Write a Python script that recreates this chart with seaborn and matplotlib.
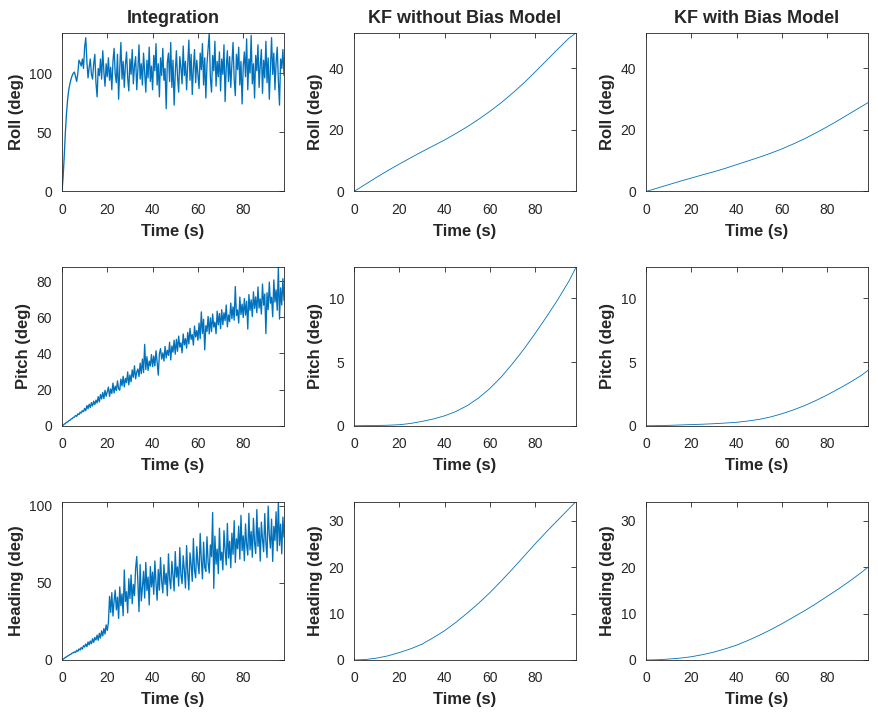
import numpy as np
import pandas as pd
import seaborn as sns
import matplotlib.pyplot as plt

roll_int = [0, 12, 30, 50, 66, 78, 86, 91, 95, 98, 100,
            101, 97, 93, 100, 111, 109, 106, 112, 104, 122,
            130, 110, 96, 105, 112, 99, 95, 108, 116, 92,
            80, 104, 98, 112, 95, 119, 101, 89, 108, 97,
            113, 94, 105, 86, 110, 121, 99, 92, 116, 78,
            104, 126, 95, 110, 88, 107, 118, 96, 85, 112,
            99, 120, 91, 106, 114, 86, 103, 124, 95, 108,
            90, 117, 101, 84, 111, 96, 122, 93, 106, 86,
            115, 102, 125, 90, 108, 80, 113, 98, 121, 94,
            104, 70, 109, 117, 93, 126, 88, 111, 73, 100,
            119, 97, 84, 114, 105, 91, 123, 98, 110, 86,
            107, 128, 94, 116, 82, 104, 120, 92, 111, 99,
            87, 117, 103, 125, 90, 113, 79, 108, 121, 134,
            96, 84, 115, 102, 127, 89, 110, 97, 118, 85,
            112, 99, 124, 76, 105, 119, 93, 114, 88, 108,
            126, 95, 81, 116, 103, 122, 90, 110, 74, 106,
            118, 97, 129, 86, 112, 100, 132, 91, 108, 79,
            115, 102, 124, 88, 107, 120, 83, 111, 96, 127,
            92, 113, 78, 105, 130, 99, 117, 86, 109, 122,
            94, 73, 112, 104, 120, 98]

pitch_int = [0, 0.3, 0.9, 1.2, 1.9, 2.1, 2.8, 3.0, 3.7, 3.9, 4.6,
             4.8, 5.7, 5.2, 6.6, 6.1, 7.5, 7.0, 8.4, 7.8, 9.6,
             8.3, 11.2, 9.4, 11.9, 10.1, 12.8, 10.9, 13.6, 11.7, 14.2,
             12.6, 16.1, 13.2, 17.3, 14.8, 18.4, 15.0, 19.6, 16.3, 18.9,
             21.4, 16.2, 20.3, 17.8, 23.6, 18.1, 21.9, 19.5, 24.8, 20.4,
             19.7, 25.8, 22.1, 27.4, 21.5, 26.2, 23.9, 29.8, 22.6, 28.1,
             24.3, 30.9, 26.8, 33.2, 25.9, 29.7, 31.4, 27.2, 34.6, 28.8,
             36.9, 29.4, 45.0, 31.1, 38.2, 30.6, 35.8, 33.0, 39.4, 32.7,
             38.6, 33.1, 41.5, 35.2, 28.0, 39.8, 42.7, 36.9, 40.3, 35.8,
             43.9, 37.5, 41.8, 38.9, 46.2, 36.4, 44.1, 40.7, 47.3, 39.6,
             47.8, 41.2, 49.6, 43.5, 45.9, 40.3, 50.8, 44.7, 48.2, 42.9,
             51.6, 45.3, 53.9, 47.8, 50.4, 44.6, 55.2, 49.1, 52.7, 47.3,
             56.8, 48.2, 63.0, 51.0, 58.9, 42.0, 55.4, 52.2, 60.5, 50.8,
             59.7, 52.1, 61.8, 54.6, 57.3, 50.9, 63.4, 55.8, 62.1, 53.7,
             64.2, 55.9, 62.5, 58.1, 66.8, 54.7, 61.3, 57.6, 67.9, 59.2,
             65.8, 58.4, 77.0, 60.9, 64.1, 56.8, 71.2, 61.5, 67.3, 59.9,
             70.4, 61.2, 68.9, 53.5, 72.6, 63.8, 69.7, 60.4, 74.1, 64.9,
             71.3, 62.5, 76.8, 65.1, 70.2, 61.8, 78.4, 66.7, 72.9, 51.0,
             73.6, 64.2, 79.5, 67.8, 71.1, 60.3, 80.7, 68.4, 75.2, 63.9,
             87.7, 59.0, 76.3, 66.8, 81.4, 69.2]

heading_int = [0, 0.6, 1.0, 1.7, 2.0, 2.6, 2.9, 3.6, 3.8, 4.5, 4.6,
               5.3, 4.9, 6.3, 5.6, 7.2, 6.4, 8.1, 7.0, 9.3, 8.4,
               10.4, 8.6, 11.7, 9.8, 12.3, 10.5, 13.8, 11.4, 14.6, 12.9,
               16.1, 12.8, 17.3, 14.2, 18.9, 15.6, 20.4, 16.8, 22.7, 19.1,
               24.3, 41.2, 30.8, 43.6, 28.5, 38.1, 45.2, 32.4, 40.7, 26.9,
               47.3, 35.1, 42.8, 28.6, 58.3, 37.9, 44.2, 30.5, 52.6, 39.8,
               55.1, 36.4, 48.9, 41.7, 59.2, 67.0, 50.3, 31.3, 61.8, 38.2,
               46.8, 57.4, 40.1, 63.2, 44.9, 53.7, 35.6, 60.5, 47.3, 56.9,
               42.5, 64.1, 49.8, 38.7, 58.6, 45.2, 66.3, 51.0, 43.4, 61.7,
               48.9, 56.2, 41.6, 68.7, 52.4, 46.1, 63.9, 54.8, 44.7, 70.2,
               53.6, 60.3, 47.9, 72.8, 55.1, 49.4, 67.5, 58.2, 46.6, 74.1,
               56.7, 45.4, 69.3, 61.8, 50.9, 78.6, 58.0, 53.2, 73.4, 62.5,
               55.8, 81.9, 64.7, 52.6, 76.3, 60.1, 57.4, 79.8, 63.2, 56.3,
               74.5, 66.9, 95.5, 46.4, 80.2, 62.0, 71.8, 55.9, 85.3, 64.6,
               69.8, 58.3, 83.7, 71.2, 61.5, 88.4, 66.0, 76.9, 59.7, 82.1,
               68.4, 90.2, 63.1, 78.5, 72.0, 86.7, 65.3, 93.6, 70.8, 80.4,
               64.2, 88.1, 74.6, 67.9, 95.0, 71.3, 83.2, 66.5, 91.7, 76.0,
               68.9, 97.4, 73.5, 85.6, 64.0, 89.3, 78.2, 70.1, 94.8, 75.7,
               66.3, 99.6, 80.9, 72.4, 91.2, 63.8, 86.5, 77.3, 95.9, 70.6,
               102.6, 74.2, 88.0, 68.7, 92.5, 79.4]

# Kalman filter results, sampled every 5 s plus the final time
kf_time = [0, 5, 10, 15, 20, 25, 30, 35, 40, 45, 50,
           55, 60, 65, 70, 75, 80, 85, 90, 95, 98]
roll_kf = [0, 2.3, 4.6, 6.8, 8.9, 10.9, 12.9, 14.8, 16.7, 18.8, 21.0,
           23.4, 26.0, 28.8, 31.9, 35.2, 38.8, 42.5, 46.2, 49.8, 51.4]
pitch_kf = [0, 0.01, 0.02, 0.04, 0.08, 0.18, 0.34, 0.53, 0.78, 1.12, 1.58,
            2.18, 2.93, 3.83, 4.88, 6.02, 7.26, 8.56, 9.92, 11.4, 12.45]
heading_kf = [0, 0.1, 0.4, 0.9, 1.6, 2.4, 3.4, 4.8, 6.3, 8.1, 10.1,
              12.2, 14.5, 17.0, 19.6, 22.3, 25.0, 27.6, 30.1, 32.6, 34.1]
roll_kfb = [0, 1.1, 2.2, 3.3, 4.35, 5.4, 6.4, 7.5, 8.7, 9.9, 11.1,
            12.4, 13.8, 15.4, 17.1, 19.0, 21.0, 23.1, 25.3, 27.5, 28.8]
pitch_kfb = [0, 0.01, 0.03, 0.06, 0.09, 0.12, 0.16, 0.21, 0.27, 0.37, 0.5,
             0.69, 0.94, 1.24, 1.58, 1.98, 2.42, 2.9, 3.4, 3.95, 4.35]
heading_kfb = [0, 0.05, 0.2, 0.4, 0.7, 1.15, 1.7, 2.4, 3.2, 4.2, 5.3,
               6.5, 7.8, 9.2, 10.6, 12.1, 13.7, 15.3, 17.0, 18.8, 20.0]

titles = ['Integration', 'KF without Bias Model', 'KF with Bias Model']
ylabels = ['Roll (deg)', 'Pitch (deg)', 'Heading (deg)']
yticks = [[[0, 50, 100], [0, 20, 40], [0, 20, 40]],
          [[0, 20, 40, 60, 80], [0, 5, 10], [0, 5, 10]],
          [[0, 50, 100], [0, 10, 20, 30], [0, 10, 20, 30]]]
xticks = [0, 20, 40, 60, 80]

int_time = np.arange(len(roll_int)) * 0.5
series = [[(int_time, roll_int), (kf_time, roll_kf), (kf_time, roll_kfb)],
          [(int_time, pitch_int), (kf_time, pitch_kf), (kf_time, pitch_kfb)],
          [(int_time, heading_int), (kf_time, heading_kf), (kf_time, heading_kfb)]]

sns.set_style('white')
plt.rcParams['font.family'] = ['Liberation Sans', 'DejaVu Sans']

line_color = '#0072BD'
axis_color = '#262626'

fig, axes = plt.subplots(3, 3, figsize=(8.79, 7.17), dpi=100)
fig.subplots_adjust(left=0.0705, right=0.9875, bottom=0.0795, top=0.954,
                    wspace=0.315, hspace=0.478)

for r in range(3):
    for c in range(3):
        ax = axes[r, c]
        t, v = series[r][c]
        df = pd.DataFrame({'t': t, 'v': v})
        # noisy integration traces drawn a bit heavier so they read as a band
        lw = 0.95 if c == 0 else 0.6
        sns.lineplot(data=df, x='t', y='v', ax=ax, color=line_color,
                     linewidth=lw, estimator=None)
        ax.set_xlim(0, 98)
        # KF columns share the limits of the KF without bias model
        top = max(series[r][0][1]) if c == 0 else max(series[r][1][1])
        ax.set_ylim(0, top)
        ax.set_xticks(xticks)
        ax.set_yticks(yticks[r][c])
        ax.tick_params(direction='in', length=3.5, width=0.6, top=True,
                       right=True, labelsize=10, colors=axis_color)
        ax.tick_params(axis='x', pad=8)
        ax.tick_params(axis='y', pad=7)
        for s in ax.spines.values():
            s.set_color(axis_color)
            s.set_linewidth(0.6)
        ax.set_xlabel('Time (s)', fontsize=12, fontweight='bold',
                      color=axis_color, labelpad=5)
        ax.set_ylabel(ylabels[r], fontsize=12, fontweight='bold',
                      color=axis_color, labelpad=4)
        if r == 0:
            ax.set_title(titles[c], fontsize=13, fontweight='bold', pad=7)

plt.savefig('out.png', dpi=100)
